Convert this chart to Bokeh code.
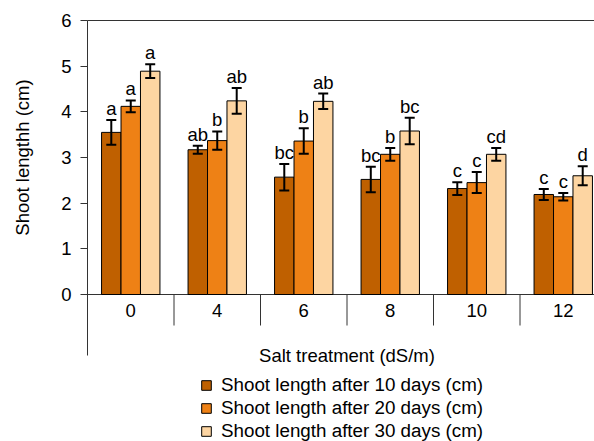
import math
from bokeh.plotting import figure
from bokeh.models import (Range1d, FixedTicker, ColumnDataSource, Whisker, TeeHead,
                          LabelSet, Legend, LegendItem, LinearAxis)
from bokeh.embed import file_html
from bokeh.resources import INLINE
from bokeh.core.properties import value

# ---------------- data ----------------
categories = ["0", "4", "6", "8", "10", "12"]
series_names = ["Shoot length after 10 days (cm)",
                "Shoot length after 20 days (cm)",
                "Shoot length after 30 days (cm)"]
day10 = [3.55, 3.17, 2.57, 2.52, 2.32, 2.19]
day20 = [4.12, 3.37, 3.36, 3.07, 2.45, 2.14]
day30 = [4.89, 4.24, 4.23, 3.58, 3.07, 2.60]
err10 = [0.27, 0.09, 0.29, 0.28, 0.14, 0.12]
err20 = [0.13, 0.20, 0.28, 0.14, 0.23, 0.08]
err30 = [0.15, 0.28, 0.17, 0.29, 0.14, 0.21]
let10 = ["a", "ab", "bc", "bc", "c", "c"]
let20 = ["a", "b", "b", "b", "c", "c"]
let30 = ["a", "ab", "ab", "bc", "cd", "d"]
y_ticks = [0, 1, 2, 3, 4, 5, 6]
x_title = "Salt treatment (dS/m)"
y_title = "Shoot lengthh (cm)"

colors = ["#BF6000", "#EE8115", "#FDD5A2"]
FONT = "Liberation Sans"
FS = "18.5px"
AX = "#333333"

W, H = 594, 441
X0, Y0, Y6 = 87, 294, 20          # pixel positions of axis origin / top
PX = (Y0 - Y6) / 6.0              # px per y unit
CW = 86.5                         # px per category
n = len(categories)

p = figure(frame_width=W, frame_height=H,
           x_range=Range1d(-X0 / CW, (W - X0) / CW),
           y_range=Range1d(-(H - Y0) / PX, 6 + Y6 / PX),
           output_backend="svg", toolbar_location=None,
           x_axis_type=None, y_axis_type=None, min_border=0)
p.outline_line_color = None
p.grid.visible = False

ya = LinearAxis(fixed_location=0, ticker=FixedTicker(ticks=y_ticks))
ya.bounds = (-(355 - Y0) / PX, 6)
ya.major_tick_in = 0
ya.major_tick_out = 7
ya.minor_tick_line_color = None
ya.major_label_standoff = 9
ya.major_label_text_font = FONT
ya.major_label_text_font_size = FS
ya.major_label_text_color = "black"
ya.axis_line_color = AX
ya.major_tick_line_color = AX
p.add_layout(ya, "left")

# top border and x axis line
p.segment(x0=[0, 0], y0=[y_ticks[-1], y_ticks[0]], x1=[n, n], y1=[y_ticks[-1], y_ticks[0]],
          line_color=AX, line_width=1)
# category separators
sep_x = list(range(1, n + 1))
p.segment(x0=sep_x, y0=[0] * len(sep_x), x1=sep_x, y1=[-(325 - Y0) / PX] * len(sep_x),
          line_color=AX, line_width=1)

bw = 0.225
offsets = [-bw, 0.0, bw]
renderers = []
for vals, errs, lets, col, off in zip([day10, day20, day30], [err10, err20, err30],
                                      [let10, let20, let30], colors, offsets):
    xs = [i + 0.5 + off for i in range(n)]
    src = ColumnDataSource(dict(x=xs, top=vals,
                                upper=[v + e for v, e in zip(vals, errs)],
                                lower=[v - e for v, e in zip(vals, errs)],
                                lab=lets))
    r = p.vbar(x="x", top="top", bottom=0, width=bw, source=src,
               fill_color=col, line_color="black", line_width=1)
    renderers.append(r)
    w = Whisker(base="x", upper="upper", lower="lower", source=src, level="overlay",
                line_color="black", line_width=2,
                upper_head=TeeHead(size=10, line_color="black", line_width=2),
                lower_head=TeeHead(size=10, line_color="black", line_width=2))
    p.add_layout(w)
    ls = LabelSet(x="x", y="upper", text="lab", source=src, text_align="center",
                  text_baseline="alphabetic", y_offset=5, text_font=value(FONT),
                  text_font_size=FS, text_color="black")
    p.add_layout(ls)

# category labels
p.text(x=[i + 0.5 for i in range(n)], y=[-(310 - Y0) / PX] * n, text=categories,
       text_align="center", text_baseline="middle", text_font=value(FONT),
       text_font_size=FS, text_color="black")
# axis titles
p.text(x=[n / 2], y=[-(355 - Y0) / PX], text=[x_title], text_align="center",
       text_baseline="middle", text_font=value(FONT), text_font_size=FS, text_color="black")
p.text(x=[-(X0 - 22) / CW], y=[(Y0 - 157) / PX], text=[y_title], angle=math.pi / 2,
       text_align="center", text_baseline="middle", text_font=value(FONT),
       text_font_size=FS, text_color="black")

legend = Legend(items=[LegendItem(label=s, renderers=[r]) for s, r in zip(series_names, renderers)],
                location=(200, -1), orientation="vertical", glyph_width=12, glyph_height=12,
                label_standoff=9, label_text_font=FONT, label_text_font_size="18.8px",
                label_text_color="black", label_height=18, spacing=1, padding=0, margin=0,
                border_line_color=None, background_fill_alpha=0)
p.add_layout(legend)

open("out.html", "w").write(file_html(p, INLINE))
